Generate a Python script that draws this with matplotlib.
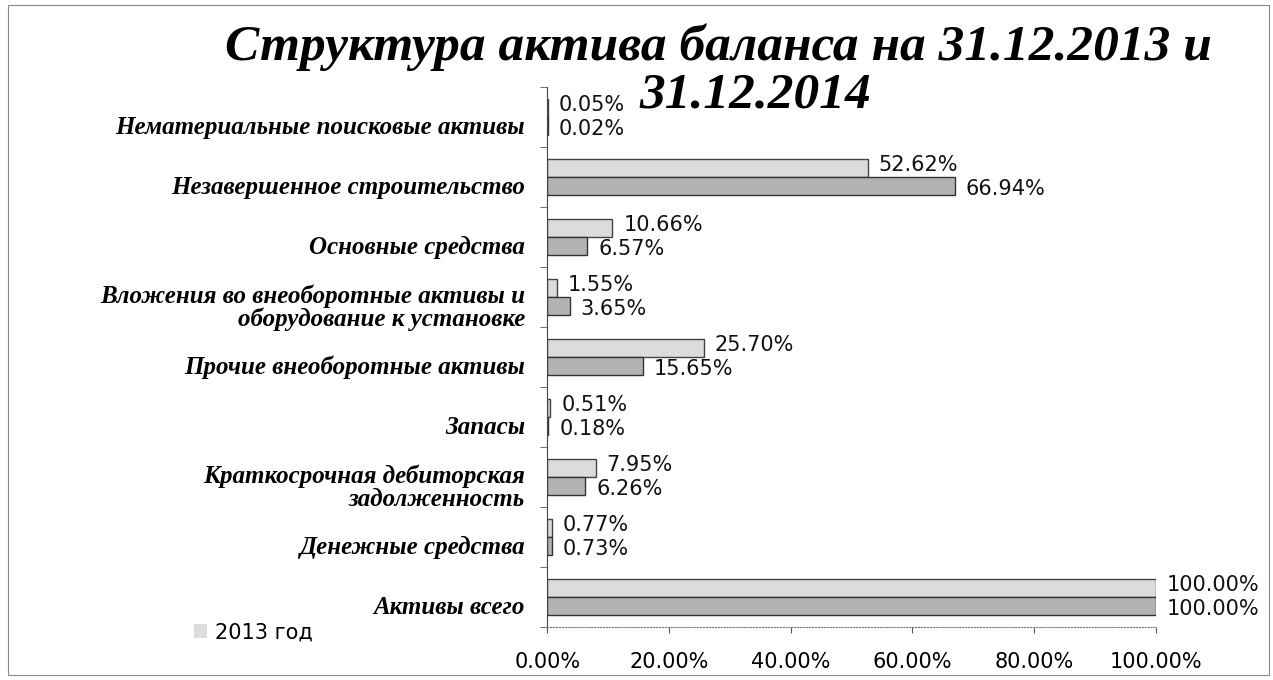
import numpy as np
import matplotlib.pyplot as plt
from matplotlib.patches import Rectangle, Patch
from matplotlib.transforms import ScaledTranslation

categories = ['Нематериальные поисковые активы',
              'Незавершенное строительство',
              'Основные средства',
              'Вложения во внеоборотные активы и\nоборудование к установке',
              'Прочие внеоборотные активы',
              'Запасы',
              'Краткосрочная дебиторская\nзадолженность',
              'Денежные средства',
              'Активы всего']
share_2013 = [0.05, 52.62, 10.66, 1.55, 25.70, 0.51, 7.95, 0.77, 100.00]
share_2014 = [0.02, 66.94, 6.57, 3.65, 15.65, 0.18, 6.26, 0.73, 100.00]
xticks = [0, 20, 40, 60, 80, 100]

fig = plt.figure(figsize=(12.73, 6.8), dpi=100)
fig.patches.append(Rectangle((0.006, 0.007), 0.991, 0.986, transform=fig.transFigure,
                             fill=False, edgecolor='#888888', linewidth=0.8))

ax = fig.add_axes([0.430, 0.078, 0.478, 0.794])
y = np.arange(len(categories))
h = 0.30

ax.barh(y - h/2, share_2013, height=h, color='#dcdcdc', edgecolor='#444444', linewidth=1.0, label='2013 год')
ax.barh(y + h/2, share_2014, height=h, color='#b3b3b3', edgecolor='#333333', linewidth=1.0, label='2014 год')

# value labels: 2013 above, 2014 below
for yi, a, b in zip(y, share_2013, share_2014):
    ax.text(a + 1.8, yi - 0.2, f'{a:.2f}%', va='center', ha='left', fontsize=15, color='#111111')
    ax.text(b + 1.8, yi + 0.2, f'{b:.2f}%', va='center', ha='left', fontsize=15, color='#111111')

ax.set_xlim(0, 100)
ax.set_ylim(len(categories) - 0.5, -0.5)
ax.set_xticks(xticks)
ax.set_xticklabels([f'{t:.2f}%' for t in xticks], fontsize=15)
ax.set_yticks(y)
ax.set_yticklabels(categories, fontsize=18, family='Liberation Serif',
                   fontweight='bold', fontstyle='italic', linespacing=1.0)
ax.set_yticks(np.arange(len(categories) + 1) - 0.5, minor=True)
ax.tick_params(axis='y', which='major', length=0, pad=16)
ax.tick_params(axis='y', which='minor', length=5, color='#555555')
ax.tick_params(axis='x', length=4, color='#555555', pad=14)
for lbl in ax.get_yticklabels():
    lbl.set_transform(lbl.get_transform() + ScaledTranslation(0, -0.08, fig.dpi_scale_trans))

for s in ['top', 'right']:
    ax.spines[s].set_visible(False)
ax.spines['left'].set_color('#444444')
ax.spines['bottom'].set_color('#777777')
ax.spines['bottom'].set_linestyle(':')

title_kw = dict(fontsize=37, family='Liberation Serif', fontweight='bold', fontstyle='italic', va='baseline', ha='center')
fig.text(0.564, 0.912, 'Структура актива баланса на 31.12.2013 и', **title_kw)
fig.text(0.593, 0.842, '31.12.2014', **title_kw)

fig.legend(handles=[Patch(facecolor='#dcdcdc', edgecolor='none', label='2013 год')],
           loc='center left', bbox_to_anchor=(0.138, 0.07), frameon=False,
           fontsize=15, handlelength=0.6, handleheight=0.6, handletextpad=0.4)

fig.savefig('out.png', dpi=100)
